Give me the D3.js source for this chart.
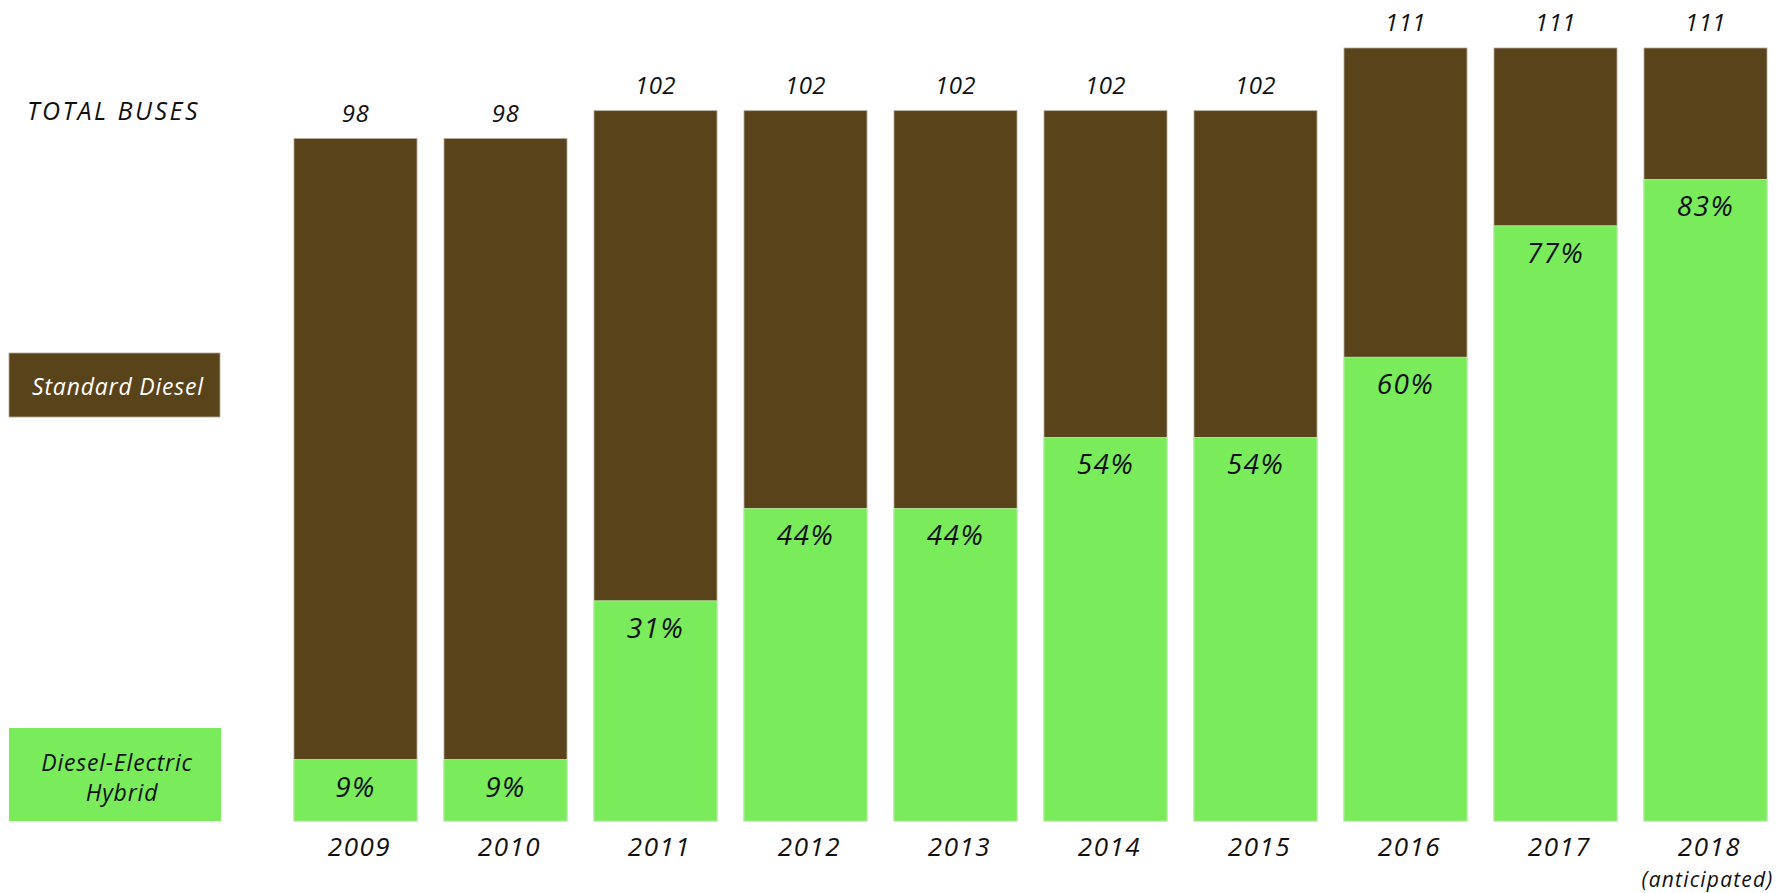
<!DOCTYPE html>
<html>
<head>
<meta charset="utf-8">
<script src="https://cdn.jsdelivr.net/npm/d3@7"></script>
<style>
  body { margin: 0; background: #fff; }
  svg text { font-family: "Open Sans", "DejaVu Sans", sans-serif; font-style: italic; }
</style>
</head>
<body>
<svg id="chart" width="1786" height="893"></svg>
<script>
// data
const years = ['2009','2010','2011','2012','2013','2014','2015','2016','2017','2018'];
const totals = [98, 98, 102, 102, 102, 102, 102, 111, 111, 111];
const hybridPct = [9, 9, 31, 44, 44, 54, 54, 60, 77, 83];
const yearNotes = ['', '', '', '', '', '', '', '', '', '(anticipated)'];

const brown = '#59431b';
const green = '#7aeb5b';

const data = years.map((y, i) => ({
  year: y,
  total: totals[i],
  pct: hybridPct[i],
  hybrid: totals[i] * hybridPct[i] / 100,
  note: yearNotes[i]
}));

const svg = d3.select('#chart');

const xScale = d3.scaleBand()
  .domain(years)
  .range([294, 1767])
  .paddingInner(0.18)
  .paddingOuter(0);

const yScale = d3.scaleLinear()
  .domain([0, 111])
  .range([821, 48]);

const bars = svg.append('g').selectAll('g')
  .data(data)
  .join('g')
    .attr('class', 'bar');

// standard diesel = full bar, hybrid drawn over the bottom part
bars.append('rect')
  .attr('x', d => xScale(d.year))
  .attr('y', d => yScale(d.total))
  .attr('width', xScale.bandwidth())
  .attr('height', d => yScale(0) - yScale(d.total))
  .attr('fill', brown)
  .attr('stroke', '#b5aa9a')
  .attr('stroke-width', 0.8);

bars.append('rect')
  .attr('x', d => xScale(d.year))
  .attr('y', d => yScale(d.hybrid))
  .attr('width', xScale.bandwidth())
  .attr('height', d => yScale(0) - yScale(d.hybrid))
  .attr('fill', green)
  .attr('stroke', '#b9f0a8')
  .attr('stroke-width', 0.8);

bars.append('text')
  .attr('x', d => xScale(d.year) + xScale.bandwidth() / 2)
  .attr('y', d => yScale(d.total) - 17)
  .attr('text-anchor', 'middle')
  .attr('font-size', 24)
  .attr('letter-spacing', 0.5)
  .attr('fill', '#111')
  .text(d => d.total);

bars.append('text')
  .attr('x', d => xScale(d.year) + xScale.bandwidth() / 2)
  .attr('y', d => yScale(d.hybrid) + 37)
  .attr('text-anchor', 'middle')
  .attr('font-size', 28)
  .attr('letter-spacing', 1.5)
  .attr('fill', '#111')
  .text(d => d.pct + '%');

bars.append('text')
  .attr('x', d => xScale(d.year) + xScale.bandwidth() / 2 + 4)
  .attr('y', 856)
  .attr('text-anchor', 'middle')
  .attr('font-size', 26)
  .attr('letter-spacing', 1.5)
  .attr('fill', '#111')
  .text(d => d.year);

bars.append('text')
  .attr('x', d => xScale(d.year) + xScale.bandwidth() / 2 + 2)
  .attr('y', 887)
  .attr('text-anchor', 'middle')
  .attr('font-size', 21)
  .attr('letter-spacing', 1.2)
  .attr('fill', '#111')
  .text(d => d.note);

// legend on the left
svg.append('text')
  .attr('x', 27)
  .attr('y', 120)
  .attr('font-size', 25)
  .attr('letter-spacing', 2.5)
  .attr('fill', '#111')
  .text('TOTAL BUSES');

svg.append('rect')
  .attr('x', 9).attr('y', 353)
  .attr('width', 211).attr('height', 64)
  .attr('fill', brown)
  .attr('stroke', '#b5aa9a')
  .attr('stroke-width', 0.8);

svg.append('text')
  .attr('x', 118).attr('y', 395)
  .attr('text-anchor', 'middle')
  .attr('font-size', 23)
  .attr('letter-spacing', 0.8)
  .attr('fill', '#fff')
  .text('Standard Diesel');

svg.append('rect')
  .attr('x', 9).attr('y', 728)
  .attr('width', 212).attr('height', 93)
  .attr('fill', green);

const hybLabel = svg.append('text')
  .attr('text-anchor', 'middle')
  .attr('font-size', 23)
  .attr('letter-spacing', 0.8)
  .attr('fill', '#111');
hybLabel.append('tspan').attr('x', 117).attr('y', 771).text('Diesel-Electric');
hybLabel.append('tspan').attr('x', 122).attr('y', 801).text('Hybrid');
</script>
</body>
</html>
